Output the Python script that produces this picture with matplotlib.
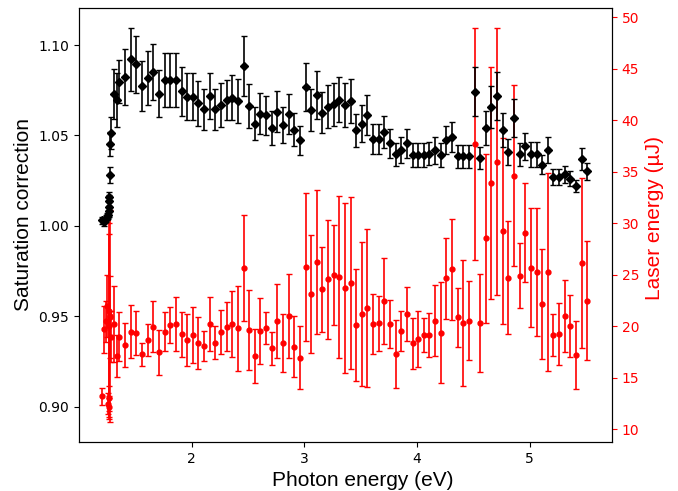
import numpy as np
import matplotlib
matplotlib.use("Agg")
import matplotlib.pyplot as plt

# photon energy (eV): dense start-up region, then a 0.05 eV grid
energy_start = [1.205, 1.225, 1.240, 1.250, 1.256, 1.262, 1.265, 1.268, 1.270,
                1.272, 1.276, 1.288, 1.311, 1.335, 1.353]
energy_grid = [round(1.41 + 0.05 * k, 3) for k in range(83)]
energy = energy_start + energy_grid

# saturation correction (left axis)
sat = [1.0031, 1.0022, 1.0040, 1.0050, 1.0060, 1.0080, 1.0105, 1.0140, 1.0160,
       1.0280, 1.0452, 1.0515, 1.0729, 1.0695, 1.0797,
       1.0825, 1.0921, 1.0893, 1.0773, 1.0819, 1.0850, 1.0732, 1.0806, 1.0806, 1.0806,
       1.0745, 1.0714, 1.0714, 1.0677, 1.0644, 1.0718, 1.0644, 1.0668, 1.0695, 1.0708,
       1.0690, 1.0884, 1.0662, 1.0566, 1.0620, 1.0611, 1.0539, 1.0631, 1.0557, 1.0618,
       1.0533, 1.0474, 1.0769, 1.0640, 1.0723, 1.0625, 1.0659, 1.0673, 1.0699, 1.0668,
       1.0690, 1.0529, 1.0566, 1.0612, 1.0478, 1.0478, 1.0520, 1.0456, 1.0395, 1.0419,
       1.0456, 1.0391, 1.0391, 1.0391, 1.0400, 1.0419, 1.0391, 1.0474, 1.0492, 1.0385,
       1.0385, 1.0385, 1.0742, 1.0376, 1.0542, 1.0655, 1.0718, 1.0533, 1.0409, 1.0599,
       1.0396, 1.0441, 1.0396, 1.0396, 1.0339, 1.0419, 1.0271, 1.0271, 1.0286, 1.0262,
       1.0221, 1.0371, 1.0302]
sat_err = [0.0020, 0.0020, 0.0020, 0.0020, 0.0020, 0.0030, 0.0030, 0.0030, 0.0030,
           0.0045, 0.0065, 0.0090, 0.0140, 0.0150, 0.0120,
           0.0155, 0.0175, 0.0157, 0.0140, 0.0150, 0.0155, 0.0131, 0.0148, 0.0148, 0.0148,
           0.0135, 0.0129, 0.0129, 0.0124, 0.0114, 0.0126, 0.0114, 0.0120, 0.0111, 0.0124,
           0.0120, 0.0166, 0.0122, 0.0092, 0.0113, 0.0107, 0.0094, 0.0113, 0.0100, 0.0109,
           0.0092, 0.0081, 0.0133, 0.0116, 0.0131, 0.0113, 0.0120, 0.0120, 0.0124, 0.0120,
           0.0122, 0.0092, 0.0102, 0.0111, 0.0083, 0.0083, 0.0089, 0.0078, 0.0066, 0.0072,
           0.0078, 0.0065, 0.0066, 0.0066, 0.0065, 0.0074, 0.0066, 0.0076, 0.0083, 0.0063,
           0.0063, 0.0063, 0.0135, 0.0063, 0.0092, 0.0116, 0.0131, 0.0094, 0.0070, 0.0105,
           0.0065, 0.0074, 0.0068, 0.0068, 0.0054, 0.0070, 0.0046, 0.0046, 0.0046, 0.0044,
           0.0033, 0.0061, 0.0048]

# laser energy in uJ (right axis)
laser = [13.2, 19.7, 20.5, 22.0, 12.5, 21.5, 13.0, 20.0, 12.2, 21.0, 20.9, 19.0,
         20.22, 17.12, 18.99,
         18.18, 19.48, 19.32, 17.28, 18.67, 19.97, 17.47, 19.48, 20.13, 20.19,
         19.22, 18.67, 19.12, 18.35, 18.09, 20.22, 18.41, 19.48, 19.97, 20.22,
         19.80, 25.69, 19.64, 17.12, 19.54, 19.87, 17.86, 20.52, 18.41, 21.03,
         18.02, 16.96, 25.73, 23.14, 26.21, 23.59, 24.56, 24.98, 24.75, 23.69,
         24.17, 20.13, 21.20, 21.81, 20.22, 20.29, 22.46, 20.22, 17.31, 19.54,
         21.20, 18.35, 18.77, 19.15, 19.15, 20.55, 19.38, 24.66, 25.53, 20.87,
         20.29, 20.55, 37.70, 20.29, 28.54, 33.95, 35.98, 29.25, 24.72, 34.62,
         24.92, 29.09, 25.69, 25.30, 22.13, 25.24, 19.15, 19.22, 21.03, 20.03,
         17.21, 26.18, 22.49]
laser_err = [0.8, 2.3, 2.0, 3.0, 1.0, 8.5, 1.2, 9.0, 1.0, 10.3, 4.0, 2.5,
             3.7, 2.0, 2.4,
             2.17, 2.59, 2.14, 1.13, 1.55, 2.49, 2.17, 1.91, 1.78, 2.62,
             2.17, 2.49, 2.72, 2.52, 1.42, 2.62, 1.62, 2.14, 2.36, 3.24,
             4.11, 5.15, 3.88, 2.65, 3.24, 1.55, 1.59, 3.56, 2.82, 4.08,
             2.98, 3.07, 7.18, 5.70, 6.99, 4.14, 5.76, 4.85, 7.86, 8.25,
             8.35, 5.44, 7.02, 7.67, 2.91, 2.69, 4.14, 2.36, 3.33, 1.94,
             2.65, 2.46, 2.69, 1.68, 2.10, 3.46, 4.89, 3.95, 4.92, 2.85,
             6.12, 3.82, 11.23, 4.76, 8.19, 11.26, 12.98, 9.03, 5.50, 8.80,
             3.17, 4.79, 5.76, 6.21, 5.34, 9.61, 2.07, 3.01, 3.50, 2.98,
             3.27, 8.25, 5.76]

label_font = "Liberation Sans"

fig, ax1 = plt.subplots(figsize=(6.78, 4.91), dpi=100)
fig.subplots_adjust(left=0.1165, right=0.9027, bottom=0.0998, top=0.9837)
ax2 = ax1.twinx()

ax2.errorbar(energy, laser, yerr=laser_err, fmt="o", color="red", ms=3.5,
             elinewidth=1.2, capsize=2.5, capthick=1.0)
ax1.errorbar(energy, sat, yerr=sat_err, fmt="D", color="black", ms=4,
             elinewidth=1.2, capsize=2.5, capthick=1.0)

# keep the black series above the red one
ax1.set_zorder(ax2.get_zorder() + 1)
ax1.patch.set_visible(False)

ax1.set_xlim(1.0, 5.73)
ax1.set_ylim(0.8805, 1.1205)
ax2.set_ylim(8.77, 50.9)
ax1.set_yticks([0.90, 0.95, 1.00, 1.05, 1.10])
ax1.set_xticks([2, 3, 4, 5])
ax2.set_yticks([10, 15, 20, 25, 30, 35, 40, 45, 50])

ax1.set_xlabel("Photon energy (eV)", fontsize=15, family=label_font)
ax1.set_ylabel("Saturation correction", fontsize=15, family=label_font)
ax2.set_ylabel("Laser energy (µJ)", fontsize=15, family=label_font, color="red")
ax2.tick_params(axis="y", colors="red")

# label placement as in the original figure
ax1.xaxis.label.set_x(0.533)
ax1.yaxis.label.set_y(0.525)
ax2.yaxis.label.set_y(0.515)

fig.savefig("out.png", dpi=100)
